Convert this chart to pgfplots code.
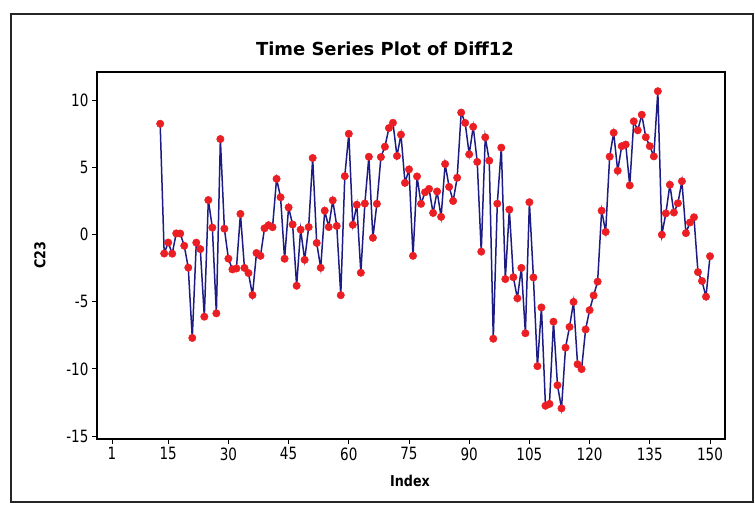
\documentclass[border=0pt]{standalone}
\usepackage{fontspec}
\setmainfont{DejaVu Sans}
\newfontfamily\tickfont[FakeStretch=0.8]{DejaVu Sans}
\newfontfamily\labfont[FakeStretch=0.85]{DejaVu Sans}
\usepackage{pgfplots}
\usepackage{pgfplotstable}
\pgfplotsset{compat=1.18}
\definecolor{mtblue}{RGB}{28,28,130}
\definecolor{mtred}{RGB}{235,30,35}
\pgfplotstableread{
idx val
13 8.24
14 -1.42
15 -0.60
16 -1.43
17 0.08
18 0.07
19 -0.84
20 -2.47
21 -7.70
22 -0.61
23 -1.09
24 -6.12
25 2.56
26 0.51
27 -5.87
28 7.10
29 0.43
30 -1.80
31 -2.60
32 -2.53
33 1.53
34 -2.49
35 -2.87
36 -4.51
37 -1.38
38 -1.59
39 0.46
40 0.69
41 0.54
42 4.14
43 2.77
44 -1.81
45 2.01
46 0.74
47 -3.82
48 0.36
49 -1.89
50 0.55
51 5.69
52 -0.63
53 -2.48
54 1.77
55 0.55
56 2.54
57 0.63
58 -4.52
59 4.34
60 7.49
61 0.72
62 2.21
63 -2.85
64 2.30
65 5.78
66 -0.25
67 2.28
68 5.76
69 6.53
70 7.92
71 8.31
72 5.84
73 7.43
74 3.84
75 4.84
76 -1.59
77 4.32
78 2.28
79 3.14
80 3.39
81 1.60
82 3.20
83 1.31
84 5.24
85 3.54
86 2.49
87 4.22
88 9.07
89 8.30
90 5.96
91 8.01
92 5.40
93 -1.28
94 7.23
95 5.49
96 -7.76
97 2.29
98 6.46
99 -3.32
100 1.85
101 -3.18
102 -4.75
103 -2.49
104 -7.35
105 2.40
106 -3.20
107 -9.80
108 -5.43
109 -12.75
110 -12.61
111 -6.49
112 -11.22
113 -12.94
114 -8.42
115 -6.88
116 -5.02
117 -9.66
118 -10.02
119 -7.07
120 -5.63
121 -4.54
122 -3.51
123 1.77
124 0.19
125 5.79
126 7.57
127 4.74
128 6.57
129 6.69
130 3.65
131 8.42
132 7.75
133 8.91
134 7.24
135 6.57
136 5.81
137 10.66
138 -0.02
139 1.57
140 3.70
141 1.63
142 2.32
143 3.96
144 0.10
145 0.89
146 1.28
147 -2.80
148 -3.46
149 -4.63
150 -1.62
}\diffdata
\begin{document}
\begin{tikzpicture}[x=1bp,y=1bp]
\path[use as bounding box] (0,0) rectangle (755,511);
\draw[line width=1.2bp, black!85] (11,9) rectangle (753,497);
\node[font=\bfseries\fontsize{18}{20}\selectfont] at (385,462) {Time Series Plot of Diff12};
\node[font=\labfont\bfseries\fontsize{15}{17}\selectfont] at (410,30) {Index};
\node[font=\labfont\bfseries\fontsize{15}{17}\selectfont, rotate=90] at (40,256) {C23};
\begin{axis}[
  at={(97bp,72bp)}, anchor=south west,
  scale only axis, width=628bp, height=367bp,
  xmin=-2.74, xmax=153.74, ymin=-15.22, ymax=12.09,
  xtick={1,15,30,45,60,75,90,105,120,135,150},
  xticklabels={1,15,30,45,60,75,90,105,120,135,150},
  ytick={-15,-10,-5,0,5,10},
  yticklabels={-15,-10,-5,0,5,10},
  tick align=outside, xtick pos=bottom, ytick pos=left,
  major tick length=5bp,
  tick style={line width=1bp, black},
  axis line style={line width=1.2bp, black},
  ticklabel style={font=\tickfont\fontsize{17}{19}\selectfont},
]
\addplot[mtblue, line width=1.5bp, mark=*, mark size=3.7bp,
  mark options={fill=mtred, draw=mtred, line width=0.5bp}]
  table[x=idx, y=val] {\diffdata};
\end{axis}
\end{tikzpicture}
\end{document}
